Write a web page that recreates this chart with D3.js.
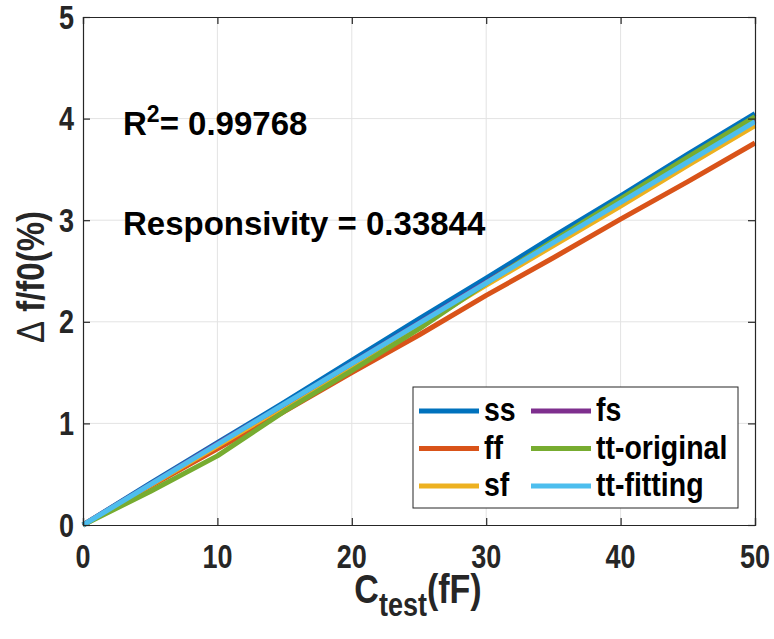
<!DOCTYPE html>
<html><head><meta charset="utf-8">
<script src="https://cdn.jsdelivr.net/npm/d3@7"></script>
<style>
body{margin:0;background:#fff;}
text{font-family:"Liberation Sans",Arial,Helvetica,sans-serif;font-weight:bold;}
</style></head>
<body><svg id="c" width="774" height="639"></svg>
<script>
const xValues = [0,5,10,15,20,25,30,35,40,45,50];
const ss      = [0,0.41,0.81,1.21,1.62,2.03,2.43,2.84,3.24,3.65,4.05];
const ff      = [0,0.38,0.75,1.12,1.50,1.87,2.26,2.63,3.01,3.38,3.76];
const sf      = [0,0.39,0.78,1.17,1.56,1.96,2.36,2.75,3.14,3.54,3.93];
const fs      = [0,0.40,0.80,1.19,1.59,1.99,2.39,2.79,3.18,3.58,3.98];
const ttOriginal = [0,0.33,0.68,1.12,1.52,1.93,2.38,2.80,3.21,3.62,4.02];
const ttFitting  = [0,0.397,0.794,1.191,1.588,1.985,2.382,2.779,3.176,3.573,3.97];
const seriesNames = ["ss","ff","sf","fs","tt-original","tt-fitting"];
const seriesColors = ["#0072BD","#D95319","#EDB120","#7E2F8E","#77AC30","#4DBEEE"];
const seriesData = [ss,ff,sf,fs,ttOriginal,ttFitting];
const xTicks = [0,10,20,30,40,50];
const yTicks = [0,1,2,3,4,5];

const svg = d3.select("#c");
const L=83,R=755,T=17,B=525;
const SY=1.2;
const x = d3.scaleLinear().domain([0,50]).range([L,R]);
const y = d3.scaleLinear().domain([0,5]).range([B,T]);

function txt(parent,px,py,size,anchor,sy){
  return parent.append("text")
    .attr("transform",`translate(${px},${py}) scale(1,${sy})`)
    .attr("text-anchor",anchor).attr("fill","#262626").style("font-size",size+"px");
}

// grid
svg.append("g").selectAll("line").data(xTicks.slice(1,-1)).join("line")
  .attr("x1",d=>x(d)).attr("x2",d=>x(d)).attr("y1",T).attr("y2",B)
  .attr("stroke","#e3e3e3").attr("stroke-width",1);
svg.append("g").selectAll("line").data(yTicks.slice(1,-1)).join("line")
  .attr("y1",d=>y(d)).attr("y2",d=>y(d)).attr("x1",L).attr("x2",R)
  .attr("stroke","#e3e3e3").attr("stroke-width",1);

// lines
const line = d3.line().x((d,i)=>x(xValues[i])).y(d=>y(d));
seriesData.forEach((s,k)=>{
  svg.append("path").datum(s).attr("d",line).attr("fill","none")
    .attr("stroke",seriesColors[k]).attr("stroke-width",5).attr("stroke-linejoin","round");
});

// axes
const ax = svg.append("g").attr("transform",`translate(0,${B})`)
  .call(d3.axisBottom(x).tickValues(xTicks).tickSize(-7).tickFormat(""));
const ay = svg.append("g").attr("transform",`translate(${L},0)`)
  .call(d3.axisLeft(y).tickValues(yTicks).tickSize(-7).tickFormat(""));
const axT = svg.append("g").attr("transform",`translate(0,${T})`)
  .call(d3.axisTop(x).tickValues(xTicks).tickSize(-7).tickFormat(""));
const ayR = svg.append("g").attr("transform",`translate(${R},0)`)
  .call(d3.axisRight(y).tickValues(yTicks).tickSize(-7).tickFormat(""));
[ax,ay,axT,ayR].forEach(g=>{
  g.selectAll("path").attr("stroke","#262626").attr("stroke-width",1.2);
  g.selectAll("line").attr("stroke","#262626").attr("stroke-width",1.2);
});
const tg = svg.append("g");
xTicks.forEach(t=>{ txt(tg,x(t),568,27,"middle",SY).text(t); });
yTicks.forEach(t=>{ txt(tg,74,y(t)+11.5,27,"end",SY).text(t); });

// axis titles
const xl = txt(svg,418,603,34,"middle",SY);
xl.append("tspan").text("C");
xl.append("tspan").text("test").style("font-size","27px").attr("dy","11");
xl.append("tspan").text("(fF)").attr("dy","-11");

const yl = svg.append("text").attr("transform",`translate(44,277) rotate(-90) scale(1,${SY})`).attr("text-anchor","middle")
  .attr("fill","#262626").style("font-size","33px");
yl.append("tspan").text("\u0394").style("font-weight","normal");
yl.append("tspan").text(" f/f0(%)");

// annotations
const r2 = svg.append("text").attr("x",123).attr("y",135).attr("fill","#000").style("font-size","33px");
r2.append("tspan").text("R");
r2.append("tspan").text("2").style("font-size","23px").attr("dy","-13");
r2.append("tspan").text("= 0.99768").attr("dy","13");
svg.append("text").attr("x",123).attr("y",235).attr("fill","#000").style("font-size","33px")
  .text("Responsivity = 0.33844");

// legend
const lg = svg.append("g");
lg.append("rect").attr("x",413).attr("y",387).attr("width",325).attr("height",121)
  .attr("fill","#fff").attr("stroke","#262626").attr("stroke-width",1);
seriesNames.forEach((n,i)=>{
  const col=Math.floor(i/3), row=i%3;
  const lx = col===0?419:531, ly = 411+row*37.5;
  lg.append("line").attr("x1",lx).attr("x2",lx+60).attr("y1",ly).attr("y2",ly)
    .attr("stroke",seriesColors[i]).attr("stroke-width",5);
  txt(lg,lx+65,ly+10,28.5,"start",1.15).attr("fill","#000").text(n);
});
</script></body></html>
